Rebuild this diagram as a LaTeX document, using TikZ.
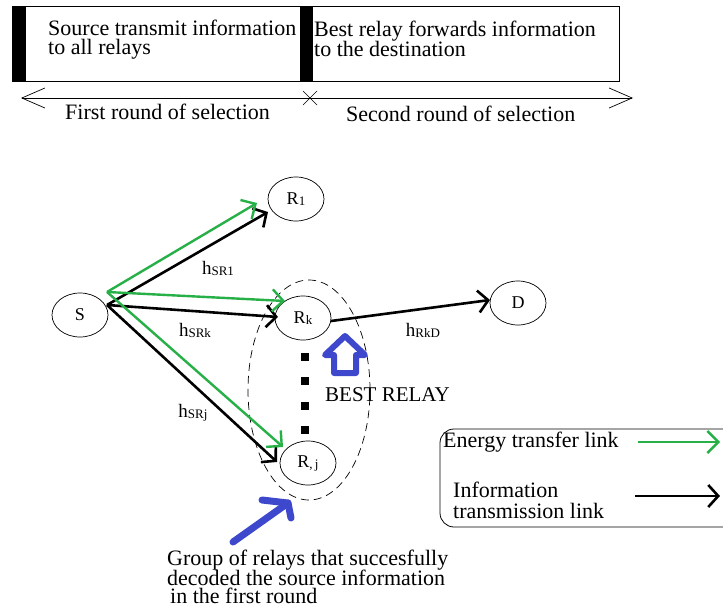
\documentclass[tikz,border=0pt]{standalone}
\usepackage{fontspec}
\setmainfont{Liberation Serif}
\usetikzlibrary{arrows.meta,calc,shapes.geometric}
\definecolor{linkgreen}{RGB}{40,176,72}
\definecolor{markblue}{RGB}{62,72,204}
\newcommand\subtxt[1]{\raisebox{-1pt}{\fontsize{13}{13}\selectfont #1}}
\begin{document}
\begin{tikzpicture}[x=1pt,y=-1pt,
  relay/.style={draw, ellipse, line width=0.7pt, minimum width=56pt, minimum height=44pt,
    inner sep=0pt, font=\fontsize{18}{18}\selectfont},
  prose/.style={anchor=base west, inner sep=0pt, font=\fontsize{22}{22}\selectfont},
  chan/.style={inner sep=0pt, font=\fontsize{19}{19}\selectfont},
  info/.style={draw=black, line width=2.6pt, -{Straight Barb[length=10pt,width=22pt]}},
  energy/.style={draw=linkgreen, line width=2.4pt, -{Straight Barb[length=11pt,width=22pt]}},
  thinline/.style={line width=0.8pt},
  bluemark/.style={draw=markblue, line width=7pt, line cap=round, line join=round},
]
\fill[white] (0,0) rectangle (723,605);
\useasboundingbox (0,0) rectangle (723,605);

% ---- time line of the two selection rounds ----
\draw[thinline] (12,6) rectangle (619,81);
\fill (12,6) rectangle (26,81);
\fill (300,6) rectangle (313,81);
\node[prose] (p1a) at (48,35) {Source transmit information};
\node[prose] (p1b) at (48,54) {to all relays};
\node[prose] (p2a) at (314,36) {Best relay forwards information};
\node[prose] (p2b) at (314,56) {to the destination};

\coordinate (tl) at (21,98);
\coordinate (tr) at (633,98);
\coordinate (tm) at (310,98);
\draw[line width=0.7pt, {Straight Barb[length=23pt,width=20pt]}-{Straight Barb[length=23pt,width=20pt]}] (tl) -- (tr);
\draw[line width=0.7pt] ($(tm)+(-7,-7)$) -- ($(tm)+(7,7)$) ($(tm)+(-7,7)$) -- ($(tm)+(7,-7)$);
\node[prose] (r1) at (65,119) {First round of selection};
\node[prose] (r2) at (346,121) {Second round of selection};

% ---- relay network ----
\node[draw, dashed, dash pattern=on 8pt off 5pt, ellipse, line width=0.7pt,
  minimum width=122pt, minimum height=220pt] (grp) at (309,390) {};

\node[relay] (S)  at (80,315)  {S};
\node[relay] (R1) at (296,199) {R\subtxt{1}};
\node[relay] (Rk) at (303,318) {R\subtxt{k}};
\node[relay] (D)  at (518,303) {D};
\node[relay] (Rj) at (308,463) {R\subtxt{,\,j}};

\coordinate (gS) at (107,292);
\coordinate (bS) at (107,305);

\draw[info]   (bS) -- ($(R1)+(-28,13)$);
\draw[energy] (gS) -- ($(R1)+(-39,4)$);
\draw[info]   (bS) -- ($(Rk)+(-25,-1)$);
\draw[energy] (gS) -- ($(Rk)+(-18,-17)$);
\draw[info]   (bS) -- ($(Rj)+(-31,-1)$);
\draw[energy] (gS) -- ($(Rj)+(-25,-16)$);
\draw[info]   ($(Rk)+(28,3)$) -- ($(D)+(-28,-3)$);

\node[chan] (l1) at (218,268) {h\subtxt{SR1}};
\node[chan] (l2) at (195,330) {h\subtxt{SRk}};
\node[chan] (l3) at (193,413) {h\subtxt{SRj}};
\node[chan] (l4) at (423,330) {h\subtxt{RkD}};

% dots between the relays of the group
\foreach \yy in {357,381,406,430}
  \fill (301,\yy-4) rectangle (309,\yy+4);

% best relay marker
\draw[draw=markblue, fill=white, line width=6pt, line join=round]
  (345,336) -- (365,355) -- (356,355) -- (356,373) -- (334,373) -- (334,355) -- (325,355) -- cycle;
\node[prose, font=\fontsize{21}{21}\selectfont] (best) at (325,401) {BEST RELAY};

% pointer to the group of relays
\draw[bluemark] (233,542) -- (288,503);
\draw[bluemark] (262,500) -- (288,503) -- (291,518);

\node[prose] (c1) at (167,565) {Group of relays that succesfully};
\node[prose] (c2) at (167,585) {decoded the source information};
\node[prose] (c3) at (170,603) {in the first round};

% ---- legend ----
\draw[thinline, rounded corners=14pt] (440,429) rectangle (745,527);
\node[prose] (e1) at (443,447) {Energy transfer link};
\node[prose] (i1) at (453,497) {Information};
\node[prose] (i2) at (453,518) {transmission link};
\coordinate (ea) at (638,442);
\coordinate (eb) at (720,442);
\coordinate (ia) at (635,496);
\coordinate (ib) at (720,496);
\draw[energy] (ea) -- (eb);
\draw[info] (ia) -- (ib);
\end{tikzpicture}
\end{document}
